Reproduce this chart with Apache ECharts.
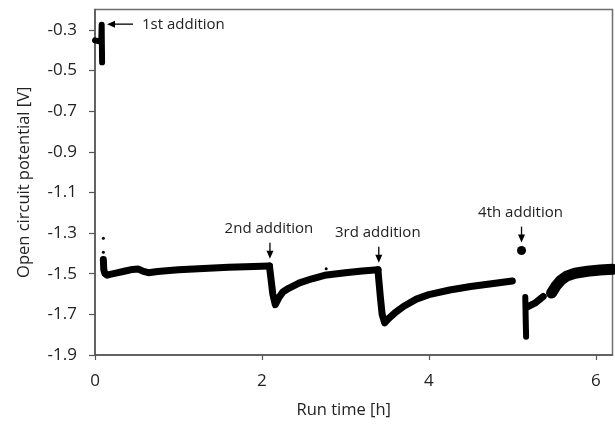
<!DOCTYPE html>
<html>
<head>
<meta charset="utf-8">
<script src="https://cdn.jsdelivr.net/npm/echarts@6/dist/echarts.min.js"></script>
<style>html,body{margin:0;padding:0;background:#fff;}#c{width:615px;height:424px;}</style>
</head>
<body>
<div id="c"></div>
<script>
// ---- data (run time [h], open circuit potential [V]) ----
const xTicks = [0, 2, 4, 6];
const yTicks = [-1.9, -1.7, -1.5, -1.3, -1.1, -0.9, -0.7, -0.5, -0.3];

const ocpStart = [[0,-0.352],[0.04,-0.356],[0.075,-0.355],[0.08,-0.275],[0.082,-0.36],[0.085,-0.46]];
const ocpRun1 = [[0.10,-1.43],[0.105,-1.48],[0.12,-1.50],[0.145,-1.507],[0.18,-1.503],[0.25,-1.497],[0.35,-1.488],[0.45,-1.479],[0.52,-1.477],[0.58,-1.489],[0.64,-1.495],[0.75,-1.489],[1.0,-1.481],[1.3,-1.474],[1.6,-1.468],[1.9,-1.464],[2.09,-1.462]];
const ocpRun2 = [[2.09,-1.462],[2.11,-1.53],[2.13,-1.60],[2.16,-1.652],[2.2,-1.62],[2.25,-1.59],[2.32,-1.572],[2.45,-1.545],[2.6,-1.525],[2.75,-1.508],[3.0,-1.495],[3.2,-1.487],[3.39,-1.481]];
const ocpRun3 = [[3.39,-1.481],[3.40,-1.53],[3.42,-1.62],[3.44,-1.70],[3.47,-1.742],[3.52,-1.72],[3.6,-1.69],[3.7,-1.66],[3.85,-1.625],[4.0,-1.603],[4.25,-1.58],[4.5,-1.563],[4.75,-1.549],[5.0,-1.536]];
const ocpRun4a = [[5.155,-1.615],[5.16,-1.72],[5.165,-1.81]];
const ocpRun4b = [[5.17,-1.665],[5.27,-1.645],[5.37,-1.612]];
const ocpRun4c = [[5.47,-1.595],[5.52,-1.562],[5.58,-1.533],[5.65,-1.512],[5.75,-1.498],[5.9,-1.488],[6.05,-1.482],[6.2,-1.478]];
const strayPoints = [[0.10,-1.325],[0.10,-1.395],[2.77,-1.475]];
const addition4Point = [[5.11,-1.386]];

const annotationLabels = ['1st addition', '2nd addition', '3rd addition', '4th addition'];
const annotationTips = [[0.144,-0.272],[2.096,-1.426],[3.40,-1.446],[5.11,-1.347]];

const chart = echarts.init(document.getElementById('c'), null, {renderer: 'canvas'});
const FONT = '"Open Sans", sans-serif';
const lineSeries = (data, w) => ({
  type: 'line', data: data, showSymbol: false, symbol: 'none', animation: false,
  lineStyle: {color: '#000', width: w, cap: 'round', join: 'round'}, z: 3
});

chart.setOption({
  animation: false,
  grid: {left: 95, right: 2.5, top: 9.5, bottom: 69, show: true, borderColor: '#6e6e6e', borderWidth: 1.5, backgroundColor: 'transparent'},
  xAxis: {
    type: 'value', min: 0, max: 6.2,
    name: 'Run time [h]', nameLocation: 'middle', nameGap: 47,
    nameTextStyle: {fontFamily: FONT, fontSize: 16.5, color: '#222', padding: [0, 20, 0, 0]},
    axisLine: {show: true, onZero: false, lineStyle: {color: '#555', width: 1.5}},
    axisTick: {show: true, length: 5, inside: false, customValues: xTicks, lineStyle: {color: '#555', width: 1.2}},
    axisLabel: {customValues: xTicks, fontFamily: FONT, fontSize: 17, color: '#222', margin: 18},
    splitLine: {show: false}
  },
  yAxis: {
    type: 'value', min: -1.9, max: -0.2,
    name: 'Open circuit potential [V]', nameLocation: 'middle', nameGap: 62, nameRotate: 90,
    nameTextStyle: {fontFamily: FONT, fontSize: 16.5, color: '#222'},
    axisLine: {show: true, onZero: false, lineStyle: {color: '#555', width: 1.5}},
    axisTick: {show: true, length: 6, inside: false, customValues: yTicks, lineStyle: {color: '#555', width: 1.2}},
    axisLabel: {customValues: yTicks, fontFamily: FONT, fontSize: 17, color: '#222', margin: 18,
      formatter: v => v.toFixed(1)},
    splitLine: {show: false}
  },
  series: [
    lineSeries(ocpStart, 6),
    lineSeries(ocpRun1, 7),
    lineSeries(ocpRun2, 7),
    lineSeries(ocpRun3, 7),
    lineSeries(ocpRun4a, 6),
    lineSeries(ocpRun4b, 7),
    lineSeries(ocpRun4c, 11),
    {type: 'scatter', data: strayPoints, symbolSize: 3, itemStyle: {color: '#000', opacity: 1}, z: 3},
    {type: 'scatter', data: addition4Point, symbolSize: 9, itemStyle: {color: '#000', opacity: 1}, z: 3}
  ]
});

// annotations with arrows anchored at data points
const g = [];
annotationTips.forEach((tip, i) => {
  const p = chart.convertToPixel({gridIndex: 0}, tip);
  const x = p[0], y = p[1];
  if (i === 0) {
    g.push({type: 'line', shape: {x1: x + 6, y1: y, x2: x + 26, y2: y}, style: {stroke: '#000', lineWidth: 1.3}, z: 10});
    g.push({type: 'polygon', shape: {points: [[x, y], [x + 8, y - 3.5], [x + 8, y + 3.5]]}, style: {fill: '#000'}, z: 10});
    g.push({type: 'text', x: x + 35, y: y + 1, style: {text: annotationLabels[i], font: '15px ' + FONT, fill: '#222', verticalAlign: 'middle', align: 'left'}, z: 10});
  } else {
    g.push({type: 'line', shape: {x1: x, y1: y - 16, x2: x, y2: y - 6}, style: {stroke: '#000', lineWidth: 1.3}, z: 10});
    g.push({type: 'polygon', shape: {points: [[x, y], [x - 3.5, y - 8], [x + 3.5, y - 8]]}, style: {fill: '#000'}, z: 10});
    g.push({type: 'text', x: x - 1, y: y - 30, style: {text: annotationLabels[i], font: '15px ' + FONT, fill: '#222', verticalAlign: 'middle', align: 'center'}, z: 10});
  }
});
chart.setOption({graphic: g});
</script>
</body>
</html>
